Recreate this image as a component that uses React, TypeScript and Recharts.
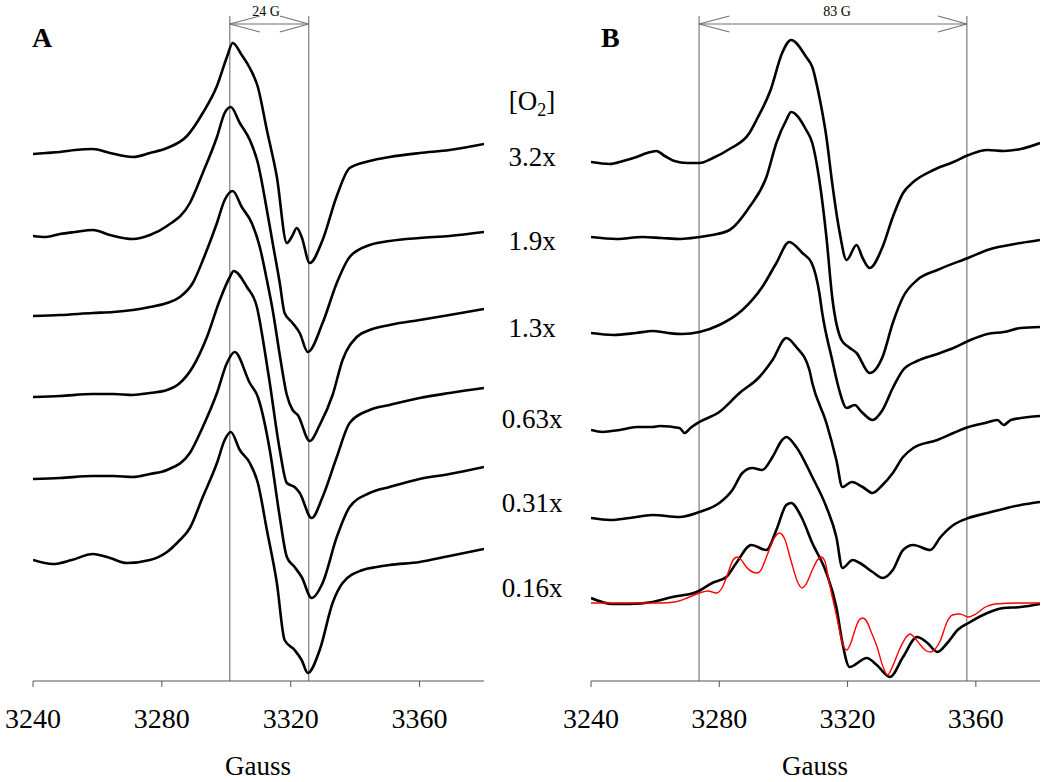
import { LineChart, Line, XAxis, YAxis, ReferenceLine } from "recharts";

// field axis (Gauss)
const FIELD_MIN = 3240;
const FIELD_MAX = 3380;
const FIELD_TICKS = [3240, 3280, 3320, 3360];
const O2_LEVELS = ["3.2x", "1.9x", "1.3x", "0.63x", "0.31x", "0.16x"];

// Panel A spectra: [field G, signal a.u.]
const A_32: [number, number][] = [
  [3240, 0], [3244, 1], [3248.4, 2], [3253, 4], [3258.6, 5], [3263.9, 1], [3271, -3], [3276.3, 1],
  [3281.6, 6], [3287.8, 18], [3292.7, 41], [3297.1, 68], [3300.2, 97], [3302, 111], [3304.8, 99],
  [3307.3, 86], [3309.8, 67], [3312.6, 24], [3315.7, -23], [3318.8, -89], [3320.3, -83], [3321.9, -74],
  [3323.4, -83], [3325.9, -109], [3329.9, -86], [3334.3, -42], [3338.3, -14], [3344.5, -7],
  [3350.7, -3], [3360, 1], [3369.3, 4], [3380, 10],
];
const A_19: [number, number][] = [
  [3240, 0], [3244, -1], [3248.4, 2], [3253, 4], [3258.6, 6], [3263.9, 1], [3271, -3], [3276.3, 1],
  [3281.6, 10], [3288.7, 33], [3292.7, 63], [3297.1, 99], [3299.5, 123], [3301.4, 129], [3304.2, 113],
  [3307.3, 96], [3309.8, 73], [3312.6, 26], [3314.4, -7], [3316.6, -47], [3318.1, -77], [3320.3, -86],
  [3322.8, -97], [3325.3, -116], [3329.9, -87], [3334.3, -47], [3338.3, -21], [3344.5, -9],
  [3350.7, -5], [3360, -2], [3369.3, 0], [3380, 4],
];
const A_13: [number, number][] = [
  [3240, 0], [3248.4, 1], [3258.6, 3], [3265, 4], [3271, 6], [3276.3, 9], [3281.6, 13], [3285.6, 19],
  [3289.6, 33], [3293, 58], [3297.1, 93], [3299.5, 116], [3302, 125], [3304.8, 109], [3307.9, 93],
  [3310.4, 69], [3312.6, 36], [3314.4, 6], [3316.6, -39], [3318.8, -79], [3320.6, -94], [3322.2, -99],
  [3325.9, -125], [3329, -109], [3333, -79], [3336.1, -44], [3340.5, -21], [3344.5, -14],
  [3350.7, -9], [3360, -4], [3369.3, 1], [3380, 7],
];
const A_063: [number, number][] = [
  [3240, 0], [3248.4, 1], [3258.6, 3], [3265, 3], [3271, 2], [3276.3, 4], [3281.6, 7], [3285.6, 14],
  [3289.6, 30], [3294, 60], [3298, 97], [3301.1, 120], [3302.3, 126], [3306.4, 110], [3309.5, 90],
  [3311.9, 47], [3313.5, 14], [3316.6, -53], [3318.8, -86], [3321.2, -90], [3322.8, -96],
  [3326.5, -121], [3329.9, -100], [3334.3, -60], [3338.3, -26], [3344.5, -13], [3350.7, -8],
  [3360, -1], [3369.3, 4], [3380, 9],
];
const A_031: [number, number][] = [
  [3240, 0], [3248.4, 1], [3258.6, 3], [3265, 3], [3271, 2], [3276.3, 5], [3281.6, 9], [3288.7, 26],
  [3292.7, 52], [3297.1, 86], [3300.2, 116], [3302.6, 127], [3307.3, 96], [3309.8, 82], [3313.5, 29],
  [3316.6, -38], [3318.8, -78], [3321.2, -88], [3323.4, -98], [3326.5, -119], [3329.9, -104],
  [3334.3, -58], [3338.3, -28], [3344.5, -14], [3350.7, -8], [3360, 0], [3369.3, 5], [3380, 12],
];
const A_016: [number, number][] = [
  [3240, 0], [3246.2, -4], [3252, 0], [3258.6, 6], [3263.9, 2], [3269.1, -3], [3276.3, 0], [3281.6, 8],
  [3285, 18], [3288.7, 32], [3292.7, 63], [3297.1, 97], [3299.5, 120], [3301.4, 128], [3304.2, 110],
  [3307.3, 97], [3309.8, 77], [3312.6, 30], [3315.7, -23], [3318.1, -80], [3321.2, -90], [3323.4, -100],
  [3325.3, -113], [3329, -90], [3333, -43], [3336.1, -23], [3342.3, -10], [3346.7, -7], [3350.7, -5],
  [3360, -2], [3369.3, 4], [3380, 11],
];
const A_OFFSETS = [527, 445, 365, 284, 202, 121];

// Panel B spectra
const B_32: [number, number][] = [
  [3240, 0], [3245.8, -2], [3250, 1], [3254.2, 5], [3257.5, 9], [3260.4, 11], [3263, 6], [3266, 1],
  [3270, -1], [3273.8, -1], [3278, 4], [3283.2, 13], [3289.4, 29], [3291.6, 42], [3296, 72],
  [3299.6, 109], [3302.4, 122], [3307.1, 105], [3309, 95], [3311.2, 65], [3313.4, 25], [3315.2, -21],
  [3317.4, -68], [3319.7, -98], [3322.8, -83], [3324.7, -96], [3326.9, -106], [3330.9, -85],
  [3334.1, -55], [3337.3, -31], [3340.5, -20], [3346.8, -8], [3353, 0], [3357.7, 7], [3363.6, 12],
  [3368.7, 11], [3374, 13], [3380, 19],
];
const B_19: [number, number][] = [
  [3240, 0], [3248, -2], [3256, 0], [3262, -1], [3268, -2], [3273.8, 0], [3277.8, 2], [3283.2, 7],
  [3289.4, 30], [3294.7, 60], [3297.8, 94], [3300.9, 117], [3302.4, 125], [3307.1, 107], [3309, 94],
  [3311.2, 57], [3313.4, 0], [3315.2, -60], [3318.1, -103], [3320.3, -110], [3322.8, -116],
  [3326.9, -136], [3330.9, -120], [3334.1, -86], [3337.3, -60], [3341.7, -43], [3348, -33],
  [3358.3, -20], [3363.6, -13], [3374, -6], [3380, -3],
];
const B_13: [number, number][] = [
  [3240, 0], [3247, -2], [3254, 0], [3259.2, 2], [3264, 0], [3268.5, -1], [3273.8, 1], [3280, 8],
  [3287.2, 23], [3293.4, 46], [3297.8, 70], [3301.8, 91], [3305.9, 80], [3308.8, 70], [3311.2, 40],
  [3312.1, 20], [3315.2, -27], [3317.4, -57], [3319.7, -75], [3322.2, -72], [3324.4, -79],
  [3327.8, -87], [3330.9, -77], [3334.1, -55], [3337.3, -37], [3341.7, -28], [3348, -21], [3353, -15],
  [3358.3, -7], [3363.6, -1], [3368.7, 1], [3374, 5], [3380, 6],
];
const B_063: [number, number][] = [
  [3240, 0], [3243.6, -2], [3248.9, 0], [3254.2, 3], [3259.2, 3], [3261.4, 4], [3267.6, 2],
  [3269.2, -3], [3271, 2], [3273.8, 8], [3280, 18], [3286.3, 37], [3292.5, 53], [3296.6, 70],
  [3300.9, 92], [3304, 83], [3308.1, 60], [3309, 47], [3313.4, 7], [3316.5, -30], [3318.4, -57],
  [3321.3, -52], [3324.7, -57], [3327.8, -63], [3330.9, -55], [3334.1, -43], [3337.3, -27],
  [3340.5, -18], [3348, -10], [3353, -3], [3357.7, 3], [3362.9, 7], [3366.7, 10], [3368.7, 5],
  [3370.9, 10], [3380, 14],
];
const B_031: [number, number][] = [
  [3240, 0], [3246, -2], [3252, 0], [3259.2, 3], [3267.6, 1], [3273.8, 6], [3280, 15], [3284.1, 28],
  [3287.2, 45], [3290.3, 50], [3293.4, 48], [3296.6, 61], [3299.6, 78], [3300.9, 81], [3304, 71],
  [3309, 41], [3313.4, 11], [3316.5, -19], [3318.4, -50], [3321.6, -42], [3323.8, -45], [3327.8, -54],
  [3330.9, -60], [3334.1, -52], [3337.3, -32], [3340.5, -27], [3345.8, -32], [3349, -19], [3353, -7],
  [3357.7, 0], [3363.6, 5], [3374, 13], [3380, 16],
];
const B_016: [number, number][] = [
  [3240, 2], [3246.8, -4], [3252, -4], [3259.2, -2], [3265.4, 3], [3272.9, 8], [3277.8, 17],
  [3282.2, 23], [3285.3, 37], [3290, 55], [3294.7, 50], [3297.8, 70], [3300.9, 95], [3302.4, 97],
  [3305.6, 83], [3309, 57], [3313.4, 27], [3316.5, -7], [3318.4, -43], [3320.6, -67], [3326, -58],
  [3329.1, -65], [3333.2, -77], [3337.3, -57], [3341.7, -37], [3344.9, -43], [3348, -52], [3351.1, -43],
  [3354.3, -30], [3357.7, -23], [3363.6, -13], [3368.7, -8], [3374, -7], [3380, -4],
];
const B_OFFSETS = [519, 444, 348, 251, 163, 81];

// simulated spectrum laid over the 0.16x trace
const FIT_016: [number, number][] = [
  [3240, -3], [3262, -3], [3266, -2], [3270, 2], [3273.8, 7], [3276.5, 9], [3279.1, 7], [3281, 13],
  [3282.5, 25], [3284.3, 40], [3285.6, 43], [3286.9, 40], [3288.4, 33], [3290.4, 28], [3291.6, 27],
  [3292.8, 29], [3294.7, 43], [3296.8, 60], [3298.7, 67], [3300.4, 61], [3302.3, 40], [3304.7, 16],
  [3305.9, 12], [3307.1, 16], [3309, 30], [3310.6, 40], [3311.8, 43], [3313, 38], [3314.3, 17],
  [3316.5, -15], [3318.5, -44], [3319.7, -50], [3320.9, -44], [3322.3, -30], [3323.6, -20],
  [3324.7, -18], [3325.9, -21], [3327.5, -33], [3329.1, -46], [3331.2, -68], [3332.5, -75],
  [3333.8, -68], [3336.4, -48], [3338.3, -37], [3339.5, -34], [3340.7, -37], [3342.7, -45],
  [3344.6, -51], [3345.8, -52], [3347, -50], [3349, -40], [3351, -22], [3352.7, -15], [3355, -14],
  [3357.7, -17], [3360, -14], [3363, -7], [3366, -4], [3374, -3], [3380, -3],
];
const FIT_OFFSET = 81;

// splitting markers
const A_MARKS = [3301.1, 3325.6];
const B_MARKS = [3273.7, 3357.2];

const FONT = '"Liberation Serif", "Times New Roman", serif';
const GRAY = "#707070";

function toSeries(pts: [number, number][], off: number) {
  return pts.map(([g, s]) => ({ g, v: s + off }));
}

function Panel({ traces, offsets, marks, armA, armB, fit, left, width, mLeft, mRight }: any) {
  const [x1, x2] = marks;
  const ref = (a: any, b: any, k: string) => (
    <ReferenceLine key={k} segment={[a, b]} stroke={GRAY} strokeWidth={1.1} ifOverflow="visible" />
  );
  return (
    <div style={{ position: "absolute", left, top: 0 }}>
      <LineChart width={width} height={782} margin={{ top: 1, right: mRight, bottom: 0, left: mLeft }}>
        <XAxis
          type="number"
          dataKey="g"
          domain={[FIELD_MIN, FIELD_MAX]}
          ticks={FIELD_TICKS}
          interval={0}
          allowDataOverflow
          height={101}
          tickSize={6}
          tickMargin={21}
          stroke="#555"
          tick={{ fontSize: 28, fill: "#000", fontFamily: FONT }}
        />
        <YAxis hide type="number" domain={[0, 680]} allowDataOverflow />
        {ref({ x: x1, y: 665 }, { x: x1, y: 0 }, "v1")}
        {ref({ x: x2, y: 665 }, { x: x2, y: 0 }, "v2")}
        {ref({ x: x1, y: 657 }, { x: x2, y: 657 }, "h")}
        {ref({ x: x1, y: 657 }, { x: armA, y: 665 }, "a1")}
        {ref({ x: x1, y: 657 }, { x: armA, y: 649 }, "a2")}
        {ref({ x: x2, y: 657 }, { x: armB, y: 665 }, "b1")}
        {ref({ x: x2, y: 657 }, { x: armB, y: 649 }, "b2")}
        {traces.map((t: [number, number][], i: number) => (
          <Line
            key={i}
            data={toSeries(t, offsets[i])}
            dataKey="v"
            type="monotone"
            stroke="#000"
            strokeWidth={2.6}
            dot={false}
            activeDot={false}
            isAnimationActive={false}
          />
        ))}
        {fit && (
          <Line
            data={toSeries(fit, FIT_OFFSET)}
            dataKey="v"
            type="monotone"
            stroke="#ff0000"
            strokeWidth={1.4}
            dot={false}
            activeDot={false}
            isAnimationActive={false}
          />
        )}
      </LineChart>
    </div>
  );
}

export default function App() {
  const labelY = [166, 250, 337, 428, 512, 597];
  return (
    <div style={{ position: "absolute", left: 0, top: 0, width: 1050, height: 782, background: "#fff", fontFamily: FONT }}>
      <Panel
        traces={[A_32, A_19, A_13, A_063, A_031, A_016]}
        offsets={A_OFFSETS}
        marks={A_MARKS}
        armA={3310.4}
        armB={3316.6}
        left={0}
        width={520}
        mLeft={33}
        mRight={36}
      />
      <Panel
        traces={[B_32, B_19, B_13, B_063, B_031, B_016]}
        offsets={B_OFFSETS}
        marks={B_MARKS}
        armA={3283.2}
        armB={3348.2}
        fit={FIT_016}
        left={560}
        width={490}
        mLeft={31}
        mRight={10}
      />
      <svg width={1050} height={782} style={{ position: "absolute", left: 0, top: 0, pointerEvents: "none" }}>
        <text x={32} y={47} fontSize={28} fontWeight="bold" fontFamily={FONT}>A</text>
        <text x={601} y={47} fontSize={28} fontWeight="bold" fontFamily={FONT}>B</text>
        <text x={266} y={16} fontSize={14} textAnchor="middle" fontFamily={FONT}>24 G</text>
        <text x={837} y={16} fontSize={14} textAnchor="middle" fontFamily={FONT}>83 G</text>
        <text x={258} y={775} fontSize={27} textAnchor="middle" fontFamily={FONT}>Gauss</text>
        <text x={815} y={775} fontSize={27} textAnchor="middle" fontFamily={FONT}>Gauss</text>
        <text x={532} y={110} fontSize={27} textAnchor="middle" fontFamily={FONT}>
          [O<tspan fontSize={18} dy={6}>2</tspan><tspan dy={-6}>]</tspan>
        </text>
        {O2_LEVELS.map((s, i) => (
          <text key={s} x={532} y={labelY[i]} fontSize={27} textAnchor="middle" fontFamily={FONT}>
            {s}
          </text>
        ))}
      </svg>
    </div>
  );
}
